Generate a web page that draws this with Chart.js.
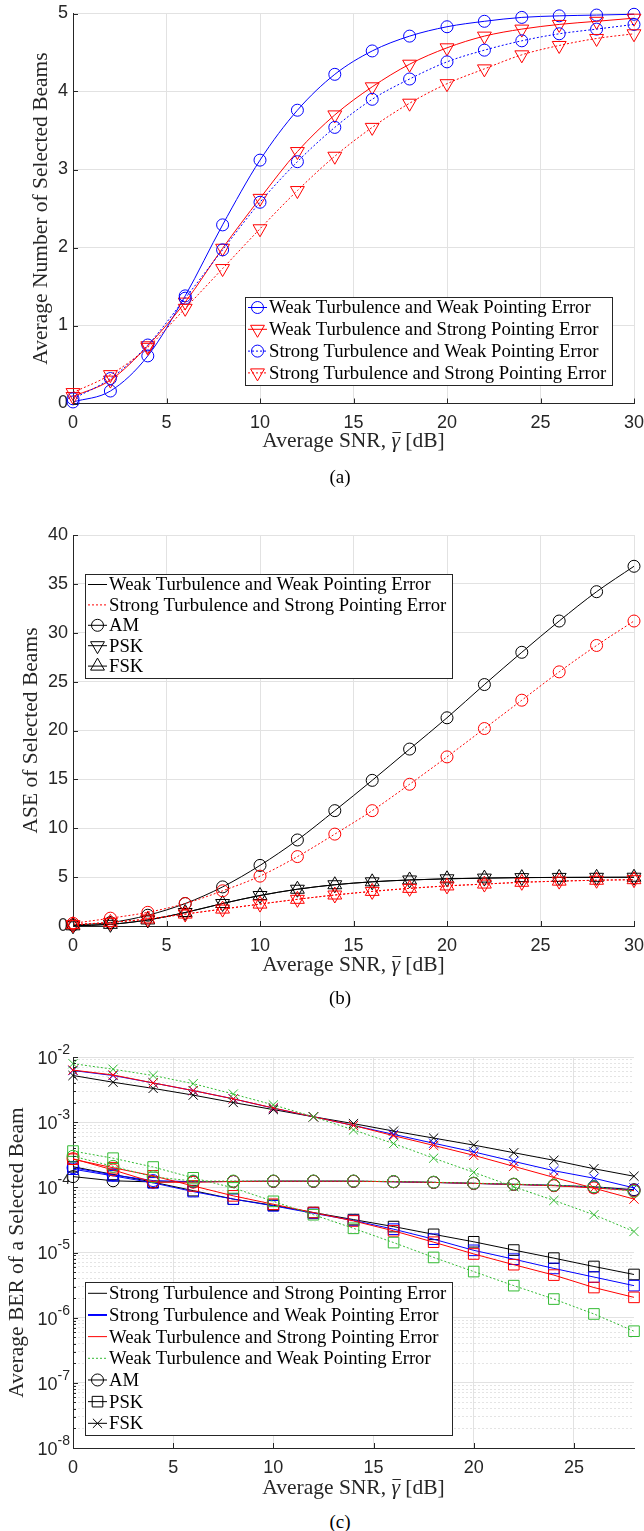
<!DOCTYPE html>
<html>
<head>
<meta charset="utf-8">
<script src="https://cdn.jsdelivr.net/npm/chart.js@4"></script>
<style>
  body { margin: 0; background: #fff; width: 644px; height: 1531px; position: relative; overflow: hidden; }
  canvas { position: absolute; left: 0; }
  .cap { position: absolute; left: 0; width: 680px; text-align: center; line-height: 20px;
         font: 19px "Liberation Serif", "Times New Roman", serif; color: #000; }
</style>
</head>
<body>
<canvas id="chartA" width="644" height="460" style="top:0px"></canvas>
<canvas id="chartB" width="644" height="500" style="top:480px"></canvas>
<canvas id="chartC" width="644" height="500" style="top:1005px"></canvas>
<div class="cap" style="top:466px">(a)</div>
<div class="cap" style="top:987px">(b)</div>
<div class="cap" style="top:1511px">(c)</div>
<script>
// --- data ---
const snrAB = [0, 2, 4, 6, 8, 10, 12, 14, 16, 18, 20, 22, 24, 26, 28, 30];
const snrC = [0, 2, 4, 6, 8, 10, 12, 14, 16, 18, 20, 22, 24, 26, 28];

// (a) average number of selected beams
const beamsWeakWeak = [0.02, 0.16, 0.61, 1.38, 2.29, 3.12, 3.76, 4.22, 4.52, 4.71, 4.83, 4.90, 4.95, 4.97, 4.98, 4.99];
const beamsWeakStrong = [0.09, 0.30, 0.74, 1.30, 1.99, 2.63, 3.23, 3.70, 4.06, 4.35, 4.56, 4.71, 4.80, 4.86, 4.90, 4.94];
const beamsStrongWeak = [0.06, 0.32, 0.75, 1.35, 1.97, 2.58, 3.10, 3.54, 3.90, 4.16, 4.38, 4.53, 4.65, 4.74, 4.80, 4.86];
const beamsStrongStrong = [0.14, 0.37, 0.72, 1.22, 1.73, 2.24, 2.73, 3.17, 3.54, 3.85, 4.10, 4.29, 4.47, 4.59, 4.68, 4.74];

// (b) ASE of selected beams
const aseAmWW = [0.1, 0.35, 1.1, 2.3, 4.0, 6.2, 8.8, 11.8, 14.9, 18.1, 21.3, 24.7, 28.0, 31.2, 34.2, 36.8];
const asePskWW = [0.02, 0.17, 0.62, 1.38, 2.3, 3.12, 3.76, 4.22, 4.52, 4.71, 4.83, 4.9, 4.95, 4.97, 4.98, 4.99];
const aseFskWW = [0.02, 0.17, 0.62, 1.38, 2.3, 3.12, 3.76, 4.22, 4.52, 4.71, 4.83, 4.9, 4.95, 4.97, 4.98, 4.99];
const aseAmSS = [0.27, 0.8, 1.4, 2.3, 3.6, 5.1, 7.1, 9.4, 11.8, 14.5, 17.3, 20.2, 23.1, 26.0, 28.7, 31.2];
const asePskSS = [0.14, 0.37, 0.72, 1.22, 1.73, 2.24, 2.73, 3.17, 3.54, 3.85, 4.1, 4.29, 4.47, 4.59, 4.68, 4.74];
const aseFskSS = [0.14, 0.37, 0.72, 1.22, 1.73, 2.24, 2.73, 3.17, 3.54, 3.85, 4.1, 4.29, 4.47, 4.59, 4.68, 4.74];

// (c) average BER of a selected beam
const berAmSS = [1.46e-4, 1.26e-4, 1.21e-4, 1.22e-4, 1.23e-4, 1.24e-4, 1.24e-4, 1.24e-4, 1.22e-4, 1.19e-4, 1.15e-4, 1.11e-4, 1.07e-4, 1.02e-4, 9.2e-5];
const berAmSW = [2.0e-4, 1.55e-4, 1.27e-4, 1.22e-4, 1.23e-4, 1.24e-4, 1.24e-4, 1.24e-4, 1.22e-4, 1.19e-4, 1.15e-4, 1.11e-4, 1.07e-4, 1.0e-4, 9.0e-5];
const berAmWS = [2.75e-4, 1.85e-4, 1.2e-4, 1.2e-4, 1.23e-4, 1.24e-4, 1.24e-4, 1.24e-4, 1.22e-4, 1.19e-4, 1.15e-4, 1.11e-4, 1.06e-4, 9.8e-5, 8.9e-5];
const berAmWW = [3.0e-4, 2.1e-4, 1.45e-4, 1.25e-4, 1.25e-4, 1.25e-4, 1.25e-4, 1.25e-4, 1.23e-4, 1.2e-4, 1.16e-4, 1.12e-4, 1.08e-4, 1.02e-4, 8.7e-5];

const berPskSS = [2.07e-4, 1.58e-4, 1.2e-4, 8.9e-5, 6.6e-5, 5.3e-5, 4.1e-5, 3.2e-5, 2.5e-5, 1.9e-5, 1.46e-5, 1.09e-5, 8.2e-6, 6.1e-6, 4.6e-6];
const berPskSW = [1.9e-4, 1.5e-4, 1.17e-4, 8.6e-5, 6.6e-5, 5.2e-5, 4.0e-5, 3.1e-5, 2.28e-5, 1.6e-5, 1.08e-5, 7.9e-6, 5.7e-6, 4.2e-6, 3.1e-6];
const berPskWS = [2.7e-4, 2.0e-4, 1.5e-4, 1.05e-4, 7.4e-5, 5.5e-5, 4.1e-5, 3.05e-5, 2.15e-5, 1.44e-5, 9.5e-6, 6.5e-6, 4.5e-6, 2.9e-6, 2.05e-6];
const berPskWW = [3.6e-4, 2.8e-4, 2.05e-4, 1.4e-4, 9.8e-5, 6.1e-5, 3.8e-5, 2.35e-5, 1.42e-5, 8.4e-6, 5.1e-6, 3.1e-6, 1.93e-6, 1.14e-6, 6.2e-7];

const berFskSS = [5.2e-3, 4.1e-3, 3.3e-3, 2.6e-3, 2.0e-3, 1.56e-3, 1.21e-3, 9.5e-4, 7.3e-4, 5.7e-4, 4.45e-4, 3.4e-4, 2.6e-4, 1.93e-4, 1.48e-4];
const berFskSW = [6.2e-3, 5.2e-3, 4.0e-3, 3.05e-3, 2.28e-3, 1.64e-3, 1.21e-3, 8.9e-4, 6.5e-4, 4.75e-4, 3.5e-4, 2.5e-4, 1.8e-4, 1.38e-4, 9.8e-5];
const berFskWS = [6.3e-3, 5.3e-3, 4.0e-3, 3.05e-3, 2.28e-3, 1.65e-3, 1.21e-3, 8.9e-4, 6.2e-4, 4.4e-4, 3.1e-4, 2.1e-4, 1.42e-4, 9.7e-5, 6.6e-5];
const berFskWW = [7.9e-3, 6.5e-3, 5.2e-3, 3.9e-3, 2.7e-3, 1.84e-3, 1.21e-3, 7.6e-4, 4.7e-4, 2.8e-4, 1.7e-4, 1.02e-4, 6.3e-5, 3.8e-5, 2.1e-5];

const berDecades = [-8, -7, -6, -5, -4, -3, -2];

// --- style helpers ---
const SERIF = '"Liberation Serif", "Times New Roman", serif';
const SANS = '"Liberation Sans", Arial, sans-serif';
const INK = '#262626';
const GRID = '#e2e2e2';
const BLUE = '#0000ff', RED = '#ff0000', BLACK = '#000000', GREEN = '#33bb33';
const DOT = [2, 2];

Chart.defaults.font.family = SANS;
Chart.defaults.font.size = 18;
Chart.defaults.color = INK;

function series(label, xs, ys, color, dash, style, rot, r, smooth) {
  return {
    label,
    data: xs.map((x, i) => ({ x, y: ys[i] })),
    borderColor: color,
    borderWidth: 1,
    borderDash: dash,
    pointStyle: style,
    pointRotation: rot,
    pointRadius: r,
    pointBorderColor: color,
    pointBackgroundColor: 'rgba(0,0,0,0)',
    pointBorderWidth: 1,
    fill: false,
    clip: false,
    cubicInterpolationMode: smooth ? 'monotone' : 'default',
    tension: 0
  };
}

function xAxis(max) {
  return {
    type: 'linear', min: 0, max,
    ticks: { stepSize: 5, padding: 9, maxRotation: 0, autoSkip: false, includeBounds: false },
    grid: { color: GRID, drawTicks: false },
    border: { color: INK, width: 1 },
    afterFit: s => { s.height = 40; s.paddingLeft = 0; s.paddingRight = 0; }
  };
}

function yAxis(min, max, step) {
  return {
    type: 'linear', min, max,
    ticks: { stepSize: step, padding: 5, autoSkip: false },
    grid: { color: GRID, drawTicks: false },
    border: { color: INK, width: 1 },
    afterFit: s => { s.width = 73; s.paddingTop = 0; s.paddingBottom = 0; }
  };
}

function drawMarker(ctx, style, x, y, r, color) {
  ctx.save();
  ctx.strokeStyle = color;
  ctx.lineWidth = 1;
  ctx.setLineDash([]);
  ctx.beginPath();
  if (style === 'circle') {
    ctx.arc(x, y, r, 0, Math.PI * 2);
  } else if (style === 'triUp' || style === 'triDown') {
    const s = style === 'triUp' ? -1 : 1;
    ctx.moveTo(x, y + s * r);
    ctx.lineTo(x - r * 0.866, y - s * r / 2);
    ctx.lineTo(x + r * 0.866, y - s * r / 2);
    ctx.closePath();
  } else if (style === 'rect') {
    const h = r * Math.SQRT1_2;
    ctx.rect(x - h, y - h, 2 * h, 2 * h);
  } else if (style === 'crossRot') {
    const h = r * Math.SQRT1_2;
    ctx.moveTo(x - h, y - h); ctx.lineTo(x + h, y + h);
    ctx.moveTo(x - h, y + h); ctx.lineTo(x + h, y - h);
  }
  ctx.stroke();
  ctx.restore();
}

// legend box inside the plot, MATLAB style
function boxLegend(spec) {
  return {
    id: 'boxLegend',
    afterDatasetsDraw(chart) {
      const ctx = chart.ctx;
      ctx.save();
      ctx.fillStyle = '#fff';
      ctx.fillRect(spec.x, spec.y, spec.w, spec.h);
      ctx.strokeStyle = INK;
      ctx.lineWidth = 1;
      ctx.strokeRect(spec.x + 0.5, spec.y + 0.5, spec.w, spec.h);
      ctx.font = '18.7px ' + SERIF;
      ctx.textBaseline = 'middle';
      spec.items.forEach((it, i) => {
        const y = spec.y + spec.first + i * spec.step;
        ctx.strokeStyle = it.color;
        ctx.lineWidth = it.lw || 1;
        ctx.setLineDash(it.dash || []);
        ctx.beginPath();
        ctx.moveTo(spec.x + 3, y);
        ctx.lineTo(spec.x + 22, y);
        ctx.stroke();
        ctx.setLineDash([]);
        if (it.marker) drawMarker(ctx, it.marker, spec.x + 12.5, y, it.r, it.color);
        ctx.fillStyle = '#000';
        ctx.fillText(it.text, spec.x + 24, y + 1);
      });
      ctx.restore();
    }
  };
}

// axis titles (serif, LaTeX-like) and inward tick marks
function decorations(spec) {
  return {
    id: 'decorations',
    afterDraw(chart) {
      const ctx = chart.ctx;
      const a = chart.chartArea;
      const xs = chart.scales.x, ys = chart.scales.y;
      ctx.save();
      // inward ticks
      ctx.strokeStyle = INK;
      ctx.lineWidth = 1;
      xs.ticks.forEach(t => {
        const px = Math.round(xs.getPixelForValue(t.value)) + 0.5;
        ctx.beginPath(); ctx.moveTo(px, a.bottom); ctx.lineTo(px, a.bottom - 5); ctx.stroke();
      });
      ys.ticks.forEach(t => {
        const py = Math.round(ys.getPixelForValue(t.value)) + 0.5;
        const len = spec.isMinor && spec.isMinor(t.value) ? 3 : 5;
        ctx.beginPath(); ctx.moveTo(a.left, py); ctx.lineTo(a.left + len, py); ctx.stroke();
      });
      // y title
      ctx.fillStyle = INK;
      ctx.font = '21.5px ' + SERIF;
      ctx.textAlign = 'center';
      ctx.textBaseline = 'middle';
      ctx.save();
      ctx.translate(spec.yTitleX, (a.top + a.bottom) / 2);
      ctx.rotate(-Math.PI / 2);
      ctx.fillText(spec.yTitle, 0, 0);
      ctx.restore();
      // x title: Average SNR, gamma-bar [dB]
      const p1 = 'Average SNR, ', g = 'γ', p2 = ' [dB]';
      ctx.textAlign = 'left';
      ctx.font = '21.5px ' + SERIF;
      const w1 = ctx.measureText(p1).width, w3 = ctx.measureText(p2).width;
      ctx.font = 'italic 21.5px ' + SERIF;
      const w2 = ctx.measureText(g).width;
      let x0 = (a.left + a.right) / 2 - (w1 + w2 + w3) / 2;
      const ty = a.bottom + spec.xTitleOff;
      ctx.font = '21.5px ' + SERIF;
      ctx.fillText(p1, x0, ty);
      ctx.font = 'italic 21.5px ' + SERIF;
      ctx.fillText(g, x0 + w1, ty);
      ctx.font = '21.5px ' + SERIF;
      ctx.fillText(p2, x0 + w1 + w2, ty);
      ctx.beginPath();
      ctx.moveTo(x0 + w1 + 1, ty - 8.5);
      ctx.lineTo(x0 + w1 + w2 + 1, ty - 8.5);
      ctx.stroke();
      ctx.restore();
    }
  };
}

// log axis labels 10^k drawn with a raised exponent
const powerLabels = {
  id: 'powerLabels',
  afterDraw(chart) {
    const ctx = chart.ctx;
    const ys = chart.scales.y;
    ctx.save();
    ctx.fillStyle = INK;
    ctx.textBaseline = 'middle';
    ctx.textAlign = 'right';
    berDecades.forEach(k => {
      const py = ys.getPixelForValue(Math.pow(10, k));
      ctx.font = '14px ' + SANS;
      const exp = '-' + Math.abs(k);
      const we = ctx.measureText(exp).width;
      ctx.fillText(exp, 70, py - 7);
      ctx.font = '18px ' + SANS;
      ctx.fillText('10', 70 - we, py + 2);
    });
    ctx.restore();
  }
};

// --- (a) ---
// MATLAB draws the last series on top; Chart.js draws the first on top, hence reverse()
new Chart(document.getElementById('chartA'), {
  type: 'line',
  data: {
    datasets: [
      series('Weak Turbulence and Weak Pointing Error', snrAB, beamsWeakWeak, BLUE, [], 'circle', 0, 6, true),
      series('Weak Turbulence and Strong Pointing Error', snrAB, beamsWeakStrong, RED, [], 'triangle', 180, 8, true),
      series('Strong Turbulence and Weak Pointing Error', snrAB, beamsStrongWeak, BLUE, DOT, 'circle', 0, 6, true),
      series('Strong Turbulence and Strong Pointing Error', snrAB, beamsStrongStrong, RED, DOT, 'triangle', 180, 8, true)
    ].reverse()
  },
  options: {
    responsive: false, animation: false, devicePixelRatio: 1,
    layout: { padding: { top: 13.5, right: 10, bottom: 16.5, left: 0 } },
    plugins: { legend: { display: false }, tooltip: { enabled: false } },
    scales: { x: xAxis(30), y: yAxis(0, 5, 1) }
  },
  plugins: [
    decorations({ yTitle: 'Average Number of Selected Beams', yTitleX: 41, xTitleOff: 37.5 }),
    boxLegend({
      x: 245, y: 297, w: 367, h: 88, first: 10.5, step: 21.8,
      items: [
        { text: 'Weak Turbulence and Weak Pointing Error', color: BLUE, marker: 'circle', r: 6 },
        { text: 'Weak Turbulence and Strong Pointing Error', color: RED, marker: 'triDown', r: 8 },
        { text: 'Strong Turbulence and Weak Pointing Error', color: BLUE, dash: DOT, marker: 'circle', r: 6 },
        { text: 'Strong Turbulence and Strong Pointing Error', color: RED, dash: DOT, marker: 'triDown', r: 8 }
      ]
    })
  ]
});

// --- (b) ---
new Chart(document.getElementById('chartB'), {
  type: 'line',
  data: {
    datasets: [
      series('AM weak/weak', snrAB, aseAmWW, BLACK, [], 'circle', 0, 6, true),
      series('PSK weak/weak', snrAB, asePskWW, BLACK, [], 'triangle', 180, 8, true),
      series('FSK weak/weak', snrAB, aseFskWW, BLACK, [], 'triangle', 0, 8, true),
      series('AM strong/strong', snrAB, aseAmSS, RED, DOT, 'circle', 0, 6, true),
      series('PSK strong/strong', snrAB, asePskSS, RED, DOT, 'triangle', 180, 8, true),
      series('FSK strong/strong', snrAB, aseFskSS, RED, DOT, 'triangle', 0, 8, true)
    ].reverse()
  },
  options: {
    responsive: false, animation: false, devicePixelRatio: 1,
    layout: { padding: { top: 55, right: 10, bottom: 14, left: 0 } },
    plugins: { legend: { display: false }, tooltip: { enabled: false } },
    scales: { x: xAxis(30), y: yAxis(0, 40, 5) }
  },
  plugins: [
    decorations({ yTitle: 'ASE of Selected Beams', yTitleX: 31, xTitleOff: 39 }),
    boxLegend({
      x: 85, y: 94, w: 367, h: 104, first: 10.5, step: 20.4,
      items: [
        { text: 'Weak Turbulence and Weak Pointing Error', color: BLACK },
        { text: 'Strong Turbulence and Strong Pointing Error', color: RED, dash: DOT },
        { text: 'AM', color: BLACK, marker: 'circle', r: 6 },
        { text: 'PSK', color: BLACK, marker: 'triDown', r: 8 },
        { text: 'FSK', color: BLACK, marker: 'triUp', r: 8 }
      ]
    })
  ]
});

// --- (c) ---
const isDecade = v => Math.abs(Math.log10(v) - Math.round(Math.log10(v))) < 1e-6;
const logTicks = [];
berDecades.forEach(k => {
  for (let m = 1; m <= 9; m++) {
    if (k === -2 && m > 1) break;
    logTicks.push(m * Math.pow(10, k));
  }
});

new Chart(document.getElementById('chartC'), {
  type: 'line',
  data: {
    datasets: [
      series('AM SS', snrC, berAmSS, BLACK, [], 'circle', 0, 6, false),
      series('PSK SS', snrC, berPskSS, BLACK, [], 'rect', 0, 7.5, false),
      series('FSK SS', snrC, berFskSS, BLACK, [], 'crossRot', 0, 6.5, false),
      series('AM SW', snrC, berAmSW, BLUE, [], 'circle', 0, 6, false),
      series('PSK SW', snrC, berPskSW, BLUE, [], 'rect', 0, 7.5, false),
      series('FSK SW', snrC, berFskSW, BLUE, [], 'crossRot', 0, 6.5, false),
      series('AM WS', snrC, berAmWS, RED, [], 'circle', 0, 6, false),
      series('PSK WS', snrC, berPskWS, RED, [], 'rect', 0, 7.5, false),
      series('FSK WS', snrC, berFskWS, RED, [], 'crossRot', 0, 6.5, false),
      series('AM WW', snrC, berAmWW, GREEN, DOT, 'circle', 0, 6, false),
      series('PSK WW', snrC, berPskWW, GREEN, DOT, 'rect', 0, 7.5, false),
      series('FSK WW', snrC, berFskWW, GREEN, DOT, 'crossRot', 0, 6.5, false)
    ].reverse()
  },
  options: {
    responsive: false, animation: false, devicePixelRatio: 1,
    layout: { padding: { top: 52, right: 10, bottom: 17, left: 0 } },
    plugins: { legend: { display: false }, tooltip: { enabled: false } },
    scales: {
      x: xAxis(28),
      y: {
        type: 'logarithmic', min: 1e-8, max: 1e-2,
        afterBuildTicks: s => { s.ticks = logTicks.map(v => ({ value: v, major: isDecade(v) })); },
        ticks: { display: false, autoSkip: false },
        grid: {
          drawTicks: false,
          color: c => (c.tick && isDecade(c.tick.value)) ? GRID : '#e4e4e4'
        },
        border: {
          color: INK, width: 1,
          dash: c => (c.tick && !isDecade(c.tick.value)) ? [2, 2] : []
        },
        afterFit: s => { s.width = 73; s.paddingTop = 0; s.paddingBottom = 0; }
      }
    }
  },
  plugins: [
    powerLabels,
    decorations({ yTitle: 'Average BER of a Selected Beam', yTitleX: 17, xTitleOff: 40, isMinor: v => !isDecade(v) }),
    boxLegend({
      x: 85, y: 277, w: 367, h: 153, first: 11.3, step: 21.67,
      items: [
        { text: 'Strong Turbulence and Strong Pointing Error', color: BLACK },
        { text: 'Strong Turbulence and Weak Pointing Error', color: BLUE, lw: 2 },
        { text: 'Weak Turbulence and Strong Pointing Error', color: RED },
        { text: 'Weak Turbulence and Weak Pointing Error', color: GREEN, dash: DOT },
        { text: 'AM', color: BLACK, marker: 'circle', r: 6 },
        { text: 'PSK', color: BLACK, marker: 'rect', r: 7.5 },
        { text: 'FSK', color: BLACK, marker: 'crossRot', r: 6.5 }
      ]
    })
  ]
});
</script>
</body>
</html>
